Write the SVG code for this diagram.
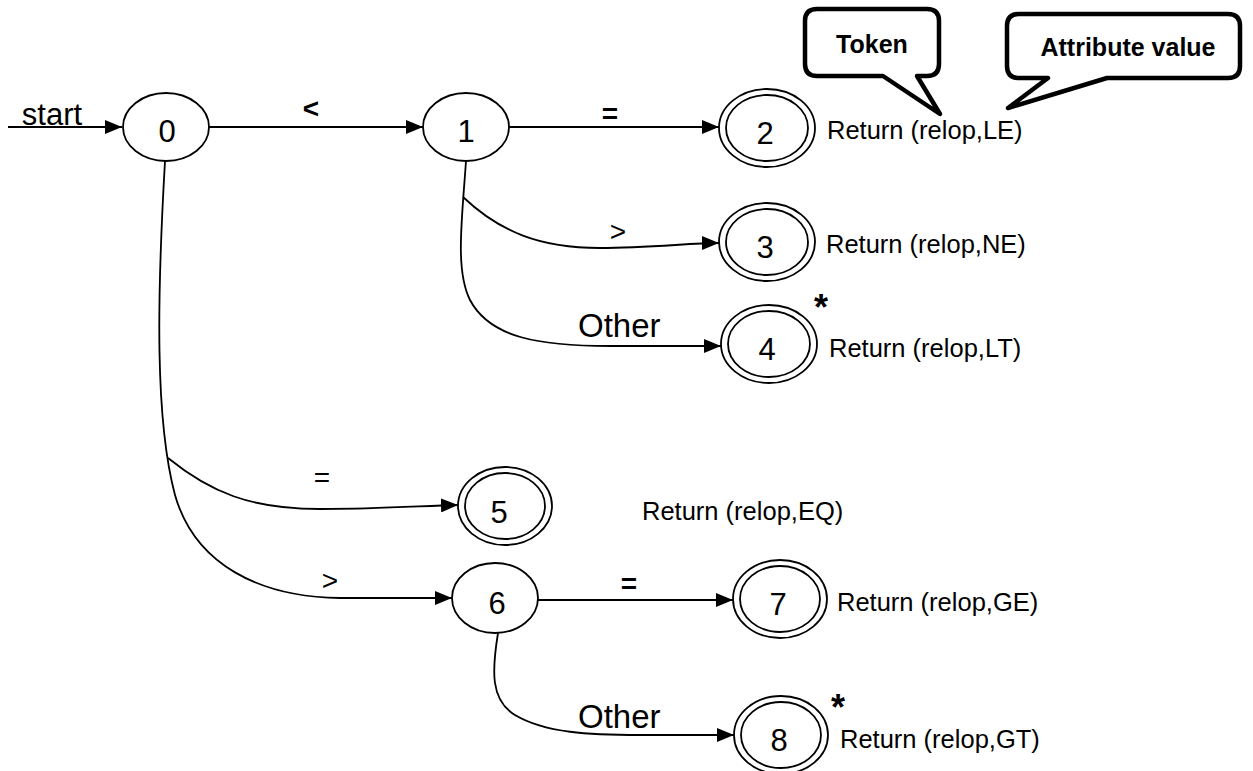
<svg xmlns="http://www.w3.org/2000/svg" width="1253" height="771" viewBox="0 0 1253 771">
  <style>
    text { font-family: "Liberation Sans", Arial, sans-serif; fill: #000; }
    .state { fill: #fff; stroke: #000; stroke-width: 1.8; }
    .digit { font-size: 31px; text-anchor: middle; }
    .ret { font-size: 25.5px; }
    .lbl { font-size: 28px; text-anchor: middle; }
    .bold { font-weight: bold; }
    .other { font-size: 33px; }
    .star { font-size: 36px; font-weight: bold; text-anchor: middle; }
    .edge { fill: none; stroke: #000; stroke-width: 1.8; marker-end: url(#arrow); }
    .callout { fill: #fff; stroke: #000; stroke-width: 4.5; stroke-linejoin: round; }
    .callout-text { font-size: 25px; font-weight: bold; text-anchor: middle; }
  </style>
  <defs>
    <marker id="arrow" markerUnits="userSpaceOnUse" markerWidth="17" markerHeight="14" refX="17" refY="7" orient="auto">
      <path d="M0,0 L17,7 L0,14 Z" fill="#000"/>
    </marker>
  </defs>

  <rect width="1253" height="771" fill="#fff"/>

  <!-- transitions -->
  <g id="connectors">
    <path class="edge" d="M8,127 H122"/>
    <text x="52" y="125" style="font-size:31px;text-anchor:middle">start</text>
    <path class="edge" d="M208,127 H423"/>
    <text class="lbl bold" x="311" y="118">&lt;</text>
    <path class="edge" d="M509,127 H719"/>
    <text class="lbl bold" x="610" y="123">=</text>
    <path class="edge" d="M463,197 C500,232 540,248 600,248 C650,248 690,243 719,243"/>
    <text class="lbl" x="618" y="241">&gt;</text>
    <path class="edge" d="M466,161 C462,220 455,270 470,300 C490,338 540,346 610,346 L721,346"/>
    <text class="other" x="578" y="337">Other</text>
    <path class="edge" d="M165,161 C157,300 155,420 175,495 C195,565 260,597 340,598 L452,598"/>
    <path class="edge" d="M168,458 C210,492 250,509 320,509 C380,509 420,506 458,505"/>
    <text class="lbl" x="322" y="487">=</text>
    <text class="lbl" x="330" y="590">&gt;</text>
    <path class="edge" d="M538,600 H733"/>
    <text class="lbl bold" x="629" y="593">=</text>
    <path class="edge" d="M498,633 C492,670 490,700 515,715 C545,733 590,735 640,735 L734,735"/>
    <text class="other" x="578" y="728">Other</text>
  </g>

  <!-- states -->
  <g id="state-0">
    <ellipse class="state" cx="166" cy="127" rx="43" ry="34"/>
    <text class="digit" x="167" y="142">0</text>
  </g>
  <g id="state-1">
    <ellipse class="state" cx="466" cy="127" rx="43" ry="34"/>
    <text class="digit" x="466" y="142">1</text>
  </g>
  <g id="state-2">
    <ellipse class="state" cx="767" cy="128" rx="48" ry="39"/>
    <ellipse class="state" cx="767" cy="128" rx="41" ry="33"/>
    <text class="digit" x="765" y="144">2</text>
    <text class="ret" x="827" y="139">Return (relop,LE)</text>
  </g>
  <g id="state-3">
    <ellipse class="state" cx="767" cy="242" rx="48" ry="39"/>
    <ellipse class="state" cx="767" cy="242" rx="41" ry="33"/>
    <text class="digit" x="765" y="258">3</text>
    <text class="ret" x="826" y="253">Return (relop,NE)</text>
  </g>
  <g id="state-4">
    <ellipse class="state" cx="769" cy="344" rx="48" ry="39"/>
    <ellipse class="state" cx="769" cy="344" rx="41" ry="33"/>
    <text class="digit" x="767" y="360">4</text>
    <text class="star" x="821" y="320">*</text>
    <text class="ret" x="829" y="357">Return (relop,LT)</text>
  </g>
  <g id="state-5">
    <ellipse class="state" cx="505" cy="506" rx="47" ry="39"/>
    <ellipse class="state" cx="505" cy="506" rx="40" ry="33"/>
    <text class="digit" x="499" y="523">5</text>
    <text class="ret" x="642" y="520">Return (relop,EQ)</text>
  </g>
  <g id="state-6">
    <ellipse class="state" cx="495" cy="598" rx="43" ry="35"/>
    <text class="digit" x="497" y="614">6</text>
  </g>
  <g id="state-7">
    <ellipse class="state" cx="780" cy="599" rx="47" ry="39"/>
    <ellipse class="state" cx="780" cy="599" rx="40" ry="33"/>
    <text class="digit" x="778" y="615">7</text>
    <text class="ret" x="837" y="611">Return (relop,GE)</text>
  </g>
  <g id="state-8">
    <ellipse class="state" cx="781" cy="735" rx="47" ry="39"/>
    <ellipse class="state" cx="781" cy="735" rx="40" ry="33"/>
    <text class="digit" x="779" y="751">8</text>
    <text class="star" x="838" y="720">*</text>
    <text class="ret" x="840" y="748">Return (relop,GT)</text>
  </g>

  <!-- speech-bubble notes -->
  <g id="note-token">
    <path class="callout" d="M817,9 H927 Q939,9 939,21 V64 Q939,76 927,76 H917 L940,114 L883,76 H817 Q805,76 805,64 V21 Q805,9 817,9 Z"/>
    <text class="callout-text" x="872" y="53">Token</text>
  </g>
  <g id="note-attribute">
    <path class="callout" d="M1019,14 H1228 Q1240,14 1240,26 V66 Q1240,78 1228,78 H1107 L1008,108 L1048,78 H1019 Q1007,78 1007,66 V26 Q1007,14 1019,14 Z"/>
    <text class="callout-text" x="1128" y="56">Attribute value</text>
  </g>
</svg>
